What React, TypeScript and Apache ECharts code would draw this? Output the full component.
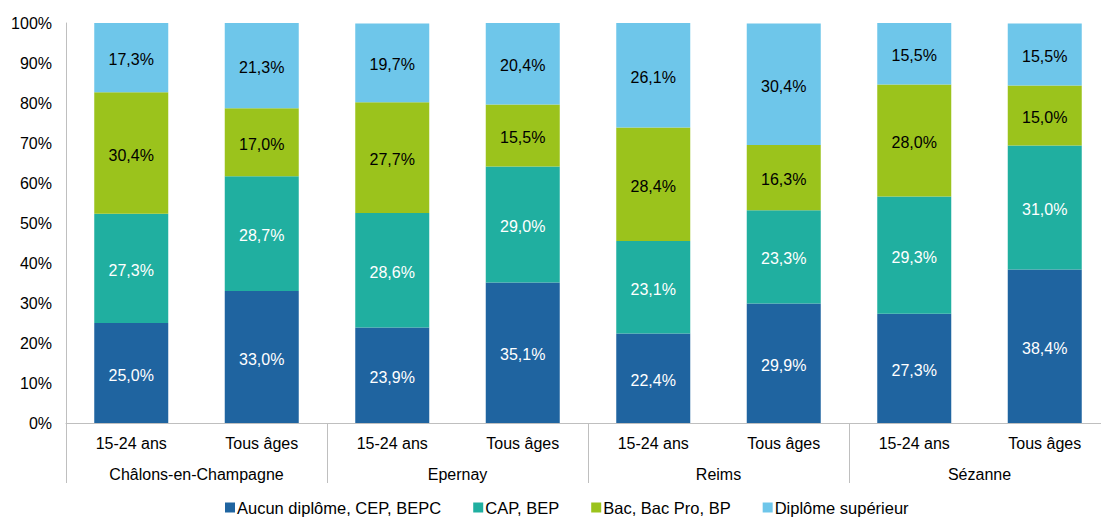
import React, { useEffect, useRef } from "react";
import * as echarts from "echarts";

const subCategories = ["15-24 ans", "Tous âges", "15-24 ans", "Tous âges", "15-24 ans", "Tous âges", "15-24 ans", "Tous âges"];
const groups = ["Châlons-en-Champagne", "Epernay", "Reims", "Sézanne"];
const seriesNames = ["Aucun diplôme, CEP, BEPC", "CAP, BEP", "Bac, Bac Pro, BP", "Diplôme supérieur"];
const aucun = [25.0, 33.0, 23.9, 35.1, 22.4, 29.9, 27.3, 38.4];
const cap = [27.3, 28.7, 28.6, 29.0, 23.1, 23.3, 29.3, 31.0];
const bac = [30.4, 17.0, 27.7, 15.5, 28.4, 16.3, 28.0, 15.0];
const sup = [17.3, 21.3, 19.7, 20.4, 26.1, 30.4, 15.5, 15.5];
const colors = ["#1F64A0", "#20AFA0", "#9BC31C", "#6EC6EA"];
const labelColors = ["#FFFFFF", "#FFFFFF", "#000000", "#000000"];

const FONT = "'Liberation Sans', Arial, sans-serif";

export default function App() {
  const ref = useRef<HTMLDivElement>(null);
  useEffect(() => {
    document.body.style.margin = "0";
    document.body.style.overflow = "hidden";
    if (!ref.current) return;
    const chart = echarts.init(ref.current, undefined, { renderer: "svg" });
    const data = [aucun, cap, bac, sup];
    chart.setOption({
      animation: false,
      textStyle: { fontFamily: FONT },
      grid: { left: 66, right: 0, top: 23, height: 400, containLabel: false },
      legend: {
        left: 225,
        top: 499,
        padding: 0,
        itemWidth: 10,
        itemHeight: 10,
        itemGap: 32,
        icon: "rect",
        textStyle: { fontSize: 16.5, color: "#000", fontFamily: FONT, padding: [0, 0, 0, -3] },
        data: seriesNames,
      },
      xAxis: [
        {
          type: "category",
          data: subCategories,
          position: "bottom",
          axisLine: { show: true, lineStyle: { color: "#BFBFBF", width: 1 } },
          axisTick: { show: false },
          axisLabel: { fontSize: 16, color: "#000", margin: 12, fontFamily: FONT, interval: 0 },
        },
        {
          type: "category",
          data: groups,
          position: "bottom",
          axisLine: { show: false },
          axisTick: { show: true, length: 60, interval: 0, alignWithLabel: false, lineStyle: { color: "#BFBFBF", width: 1 } },
          axisLabel: { fontSize: 16, color: "#000", margin: 43, fontFamily: FONT, interval: 0 },
        },
      ],
      yAxis: {
        type: "value",
        min: 0,
        max: 100,
        interval: 10,
        axisLine: { show: true, lineStyle: { color: "#BFBFBF", width: 1 } },
        axisTick: { show: false },
        splitLine: { show: false },
        axisLabel: { formatter: "{value}%", fontSize: 16, color: "#000", margin: 14, fontFamily: FONT },
      },
      series: seriesNames.map((name, i) => ({
        name,
        type: "bar",
        stack: "total",
        xAxisIndex: 0,
        barWidth: 74,
        data: data[i],
        itemStyle: { color: colors[i] },
        label: {
          show: true,
          position: "inside",
          offset: [0, 2],
          fontSize: 16,
          color: labelColors[i],
          fontFamily: FONT,
          formatter: (p: any) => p.value.toFixed(1).replace(".", ",") + "%",
        },
      })),
    });
    return () => chart.dispose();
  }, []);
  return <div ref={ref} style={{ width: 1110, height: 517 }} />;
}
